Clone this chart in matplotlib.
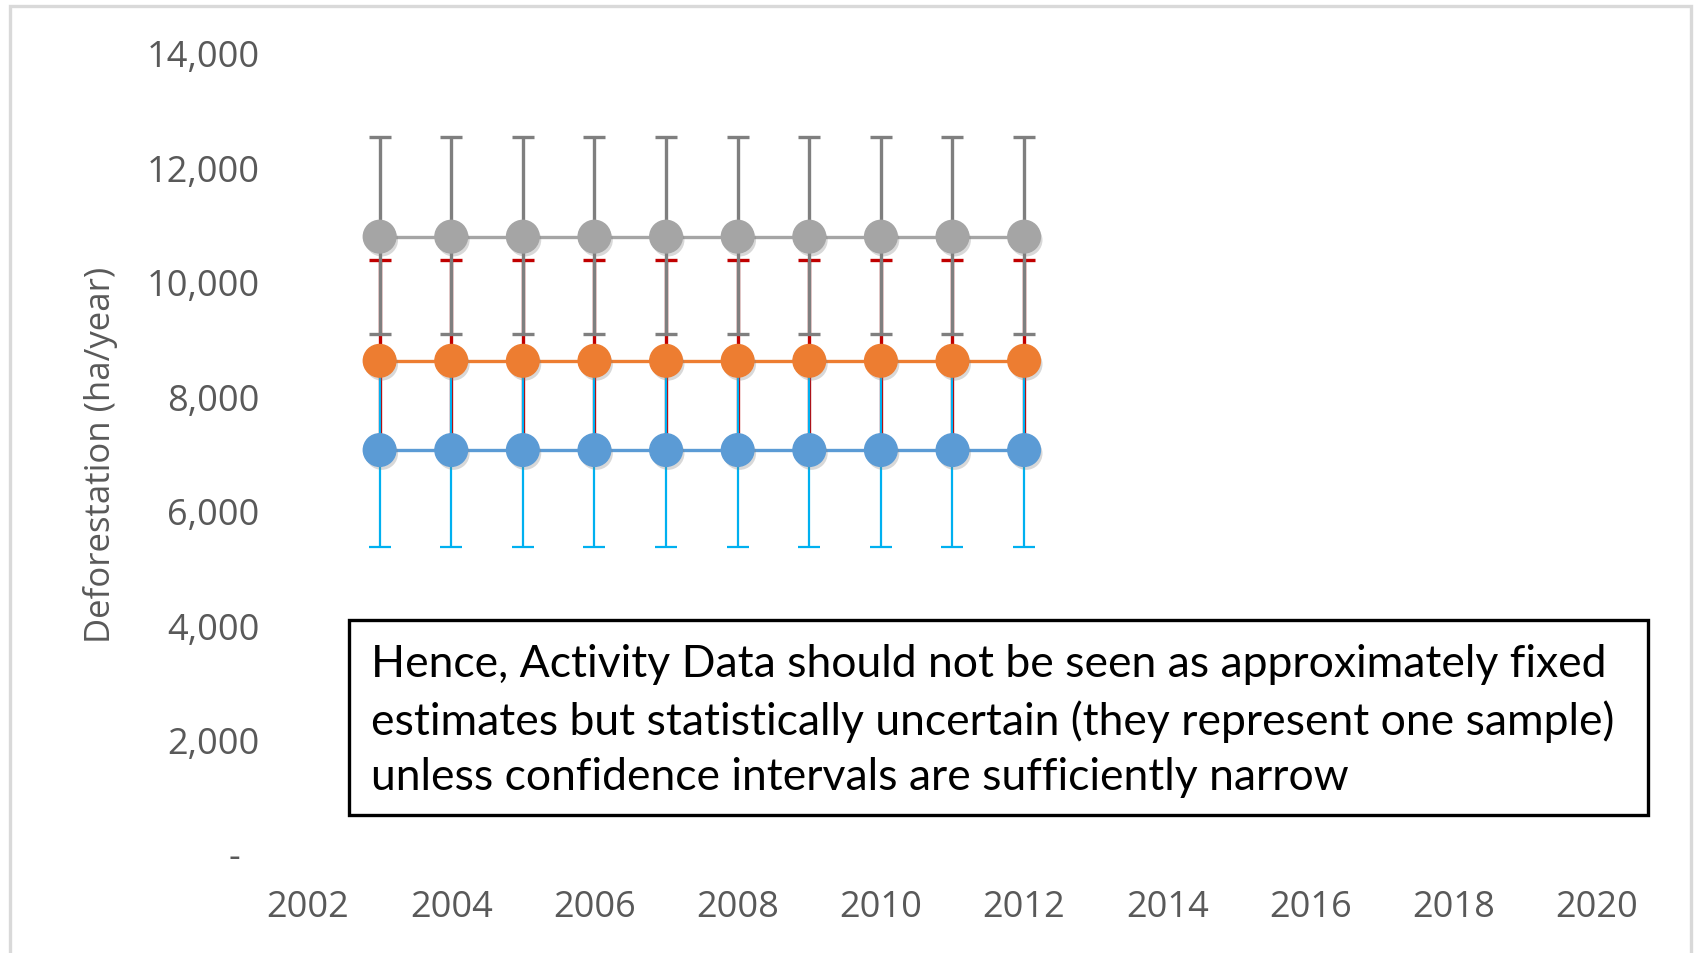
#
# Deforestation estimates with confidence intervals (Excel style chart)
#
import numpy as np
import matplotlib.pyplot as plt
import matplotlib.patheffects as pe
from matplotlib.patches import Rectangle
from matplotlib.ticker import FuncFormatter

# data
years = [2003, 2004, 2005, 2006, 2007, 2008, 2009, 2010, 2011, 2012]
blue_vals = [7060] * 10
blue_err = [1695] * 10
orange_vals = [8620] * 10
orange_err_lo = [1600] * 10
orange_err_hi = [1770] * 10
grey_vals = [10790] * 10
grey_err_lo = [1710] * 10
grey_err_hi = [1740] * 10

x_ticks = [2002, 2004, 2006, 2008, 2010, 2012, 2014, 2016, 2018, 2020]
y_ticks = [0, 2000, 4000, 6000, 8000, 10000, 12000, 14000]

note = ("Hence, Activity Data should not be seen as approximately fixed\n"
        "estimates but statistically uncertain (they represent one sample)\n"
        "unless confidence intervals are sufficiently narrow")

W, H = 1694, 954
fig = plt.figure(figsize=(W / 100, H / 100), dpi=100)
fig.patch.set_facecolor('white')

# plot area placed in pixels
left, right, bottom, top = 308, 1597, 855, 54
ax = fig.add_axes([left / W, 1 - bottom / H, (right - left) / W, (bottom - top) / H])
ax.set_xlim(2002, 2020)
ax.set_ylim(0, 14000)
for s in ax.spines.values():
    s.set_visible(False)

# error bars first (red under grey)
ax.errorbar(years, orange_vals, yerr=[orange_err_lo, orange_err_hi], fmt='none',
            ecolor='#C00000', elinewidth=2.4, capsize=8, capthick=2.4, zorder=1)
ax.errorbar(years, blue_vals, yerr=blue_err, fmt='none', ecolor='#00B0F0',
            elinewidth=1.6, capsize=8, capthick=1.6, zorder=2)
ax.errorbar(years, grey_vals, yerr=[grey_err_lo, grey_err_hi], fmt='none',
            ecolor='#7F7F7F', elinewidth=2.4, capsize=8, capthick=2.4, zorder=3)

# lines, then markers with a soft drop shadow
shadow = [pe.SimplePatchShadow(offset=(1.5, -2.5), alpha=0.3, shadow_rgbFace='#808080'),
          pe.Normal()]
z = 4
for vals, col in [(blue_vals, '#5B9BD5'), (orange_vals, '#ED7D31'), (grey_vals, '#A5A5A5')]:
    ax.plot(years, vals, color=col, lw=2.4, zorder=z)
    ax.plot(years, vals, ls='none', marker='o', ms=23.5, mfc=col, mec=col,
            zorder=z + 0.5, path_effects=shadow)
    z += 1

# axes text
def yfmt(v, pos):
    if v == 0:
        return '-  '
    return '{:,.0f}'.format(v)

ax.set_xticks(x_ticks)
ax.set_yticks(y_ticks)
ax.yaxis.set_major_formatter(FuncFormatter(yfmt))
ax.tick_params(axis='both', length=0, labelcolor='#595959', labelsize=26)
ax.tick_params(axis='y', pad=35)
ax.tick_params(axis='x', pad=25)
for lab in ax.get_xticklabels() + ax.get_yticklabels():
    lab.set_family('Open Sans')
ax.set_ylabel('Deforestation (ha/year)', fontsize=25, color='#595959',
              family='Open Sans', labelpad=20)

# note box
fig.patches.append(Rectangle((349 / W, 1 - 816 / H), (1648 - 349) / W, (816 - 621) / H,
                             transform=fig.transFigure, fill=False, ec='black', lw=2.4,
                             zorder=10))
fig.text(371 / W, 1 - 721 / H, note, ha='left', va='center', fontsize=32,
         family='Lato', color='black', linespacing=1.43, zorder=11)

# outer chart border
fig.patches.append(Rectangle((10 / W, -0.05), (1691 - 10) / W, 1.05 - 7 / H,
                             transform=fig.transFigure, fill=False, ec='#D9D9D9', lw=2.4))

fig.savefig('out.png', dpi=100)
